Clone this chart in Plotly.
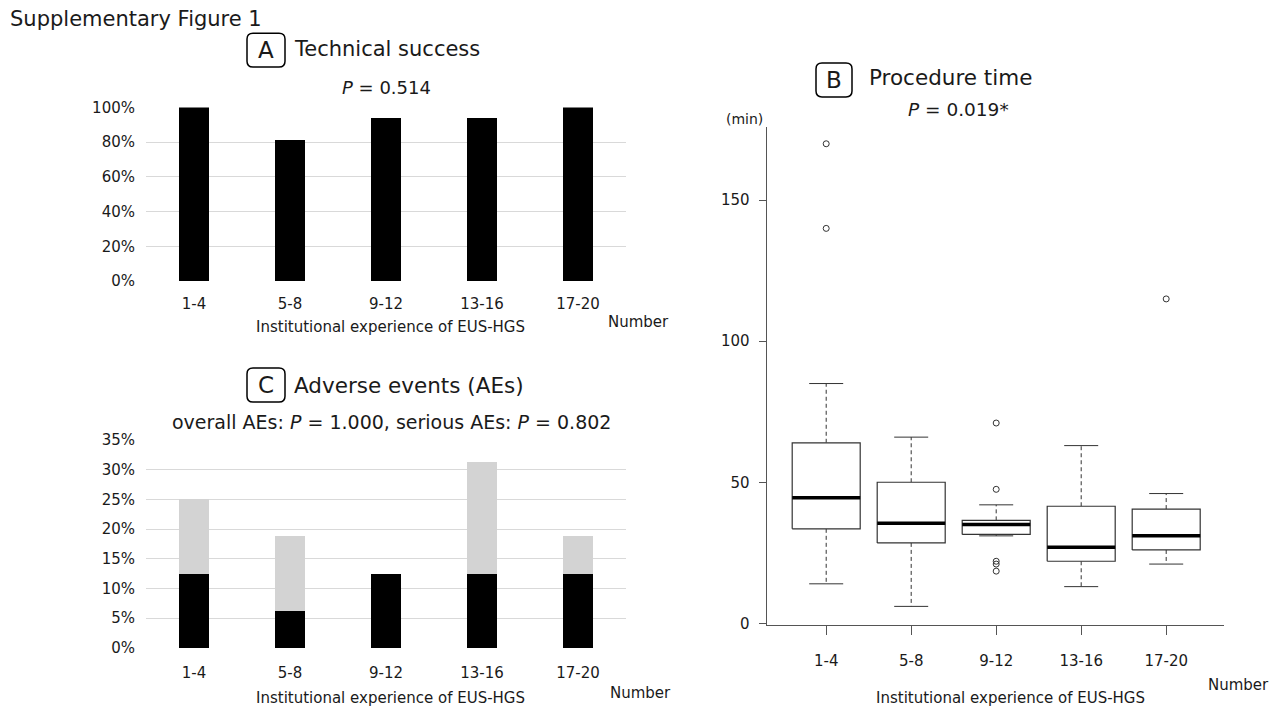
import plotly.graph_objects as go

# ---------------- data ----------------
categories = ["1-4", "5-8", "9-12", "13-16", "17-20"]

# Panel A: technical success (%)
technical_success = [100, 81.25, 93.75, 93.75, 100]

# Panel C: adverse events (%)
overall_aes = [25, 18.75, 12.5, 31.25, 18.75]
serious_aes = [12.5, 6.25, 12.5, 12.5, 12.5]

# Panel B: procedure time (min) box statistics
lower_whisker = [14, 6, 31, 13, 21]
q1_values = [33.5, 28.5, 31.5, 22, 26]
median_values = [44.5, 35.5, 35, 27, 31]
q3_values = [64, 50, 36.5, 41.5, 40.5]
upper_whisker = [85, 66, 42, 63, 46]
outlier_groups = ["1-4", "1-4", "9-12", "9-12", "9-12", "9-12", "9-12", "17-20"]
outlier_values = [170, 140, 71, 47.5, 22, 21, 18.5, 115]

pct_ticks = [0, 20, 40, 60, 80, 100]
ae_ticks = [0, 5, 10, 15, 20, 25, 30, 35]
time_ticks = [0, 50, 100, 150]

# ---------------- helpers ----------------
W, H = 1280, 720
FONT = "DejaVu Sans"
TXT = "#1a1a1a"


def fx(p):
    return p / W


def fy(p):
    # map a screen row to paper coordinates (page is shown slightly offset/compressed vertically)
    return 1 - ((p - 7.8) / 0.978) / H


fig = go.Figure()

# Panel A bars
fig.add_trace(go.Bar(x=categories, y=technical_success, marker=dict(color="black", line=dict(width=0)),
                     xaxis="x", yaxis="y", hoverinfo="skip"))

# Panel C stacked bars
other_aes = [o - s for o, s in zip(overall_aes, serious_aes)]
fig.add_trace(go.Bar(x=categories, y=serious_aes, marker=dict(color="black", line=dict(width=0)),
                     xaxis="x2", yaxis="y2", hoverinfo="skip"))
fig.add_trace(go.Bar(x=categories, y=other_aes, marker=dict(color="#d3d3d3", line=dict(width=0)),
                     xaxis="x2", yaxis="y2", hoverinfo="skip"))

# Panel B box plots (R style), built from the statistics
pos = {c: i + 1 for i, c in enumerate(categories)}
half_box, half_cap = 0.4, 0.2
box_x, box_y, med_x, med_y, wh_x, wh_y, cap_x, cap_y = [], [], [], [], [], [], [], []
for i, c in enumerate(categories):
    p = pos[c]
    box_x += [p - half_box, p + half_box, p + half_box, p - half_box, p - half_box, None]
    box_y += [q1_values[i], q1_values[i], q3_values[i], q3_values[i], q1_values[i], None]
    med_x += [p - half_box, p + half_box, None]
    med_y += [median_values[i], median_values[i], None]
    wh_x += [p, p, None, p, p, None]
    wh_y += [q3_values[i], upper_whisker[i], None, q1_values[i], lower_whisker[i], None]
    cap_x += [p - half_cap, p + half_cap, None, p - half_cap, p + half_cap, None]
    cap_y += [upper_whisker[i], upper_whisker[i], None, lower_whisker[i], lower_whisker[i], None]

fig.add_trace(go.Scatter(x=wh_x, y=wh_y, mode="lines", line=dict(color="#333333", width=1, dash="4px,3px"),
                         xaxis="x3", yaxis="y3", hoverinfo="skip"))
fig.add_trace(go.Scatter(x=cap_x, y=cap_y, mode="lines", line=dict(color="#333333", width=1),
                         xaxis="x3", yaxis="y3", hoverinfo="skip"))
fig.add_trace(go.Scatter(x=box_x, y=box_y, mode="lines", fill="toself", fillcolor="white",
                         line=dict(color="#333333", width=1.2), xaxis="x3", yaxis="y3", hoverinfo="skip"))
fig.add_trace(go.Scatter(x=med_x, y=med_y, mode="lines", line=dict(color="black", width=3.5),
                         xaxis="x3", yaxis="y3", hoverinfo="skip"))
fig.add_trace(go.Scatter(x=[pos[g] for g in outlier_groups], y=outlier_values, mode="markers",
                         marker=dict(symbol="circle-open", size=6, color="#333333", line=dict(width=1)),
                         xaxis="x3", yaxis="y3", hoverinfo="skip"))

tickfont = dict(family=FONT, size=15, color=TXT)

fig.update_layout(
    width=W, height=H,
    margin=dict(l=0, r=0, t=0, b=0),
    paper_bgcolor="white", plot_bgcolor="white",
    showlegend=False,
    barmode="stack",
    bargap=0.69,
    font=dict(family=FONT, color=TXT),
    xaxis=dict(domain=[fx(146), fx(626)], anchor="y", type="category", showline=False, showgrid=False,
               ticks="", tickfont=tickfont, ticklabelstandoff=12, zeroline=False),
    yaxis=dict(domain=[fy(280.7), fy(106.5)], anchor="x", range=[0, 100], tickvals=pct_ticks,
               ticktext=[f"{v}%" for v in pct_ticks], showgrid=True, gridcolor="#d9d9d9", gridwidth=1,
               zeroline=False, showline=False, ticks="", tickfont=tickfont, ticklabelstandoff=10),
    xaxis2=dict(domain=[fx(146), fx(626)], anchor="y2", type="category", showline=False, showgrid=False,
                ticks="", tickfont=tickfont, ticklabelstandoff=14, zeroline=False),
    yaxis2=dict(domain=[fy(648.7), fy(440)], anchor="x2", range=[0, 35], tickvals=ae_ticks,
                ticktext=[f"{v}%" for v in ae_ticks], showgrid=True, gridcolor="#d9d9d9", gridwidth=1,
                zeroline=False, showline=False, ticks="", tickfont=tickfont, ticklabelstandoff=10),
    xaxis3=dict(domain=[fx(766.7), fx(1224)], anchor="y3", range=[0.3, 5.68], tickvals=[1, 2, 3, 4, 5],
                ticktext=categories, ticks="outside", ticklen=9, tickcolor="#555555", showline=True,
                linecolor="#555555", linewidth=1.3, showgrid=False, zeroline=False, tickfont=tickfont,
                ticklabelstandoff=13),
    yaxis3=dict(domain=[fy(625.7), fy(126)], anchor="x3", range=[-0.6, 176.0], tickvals=time_ticks,
                ticks="outside", ticklen=7, tickcolor="#555555", showline=True, linecolor="#555555",
                linewidth=1.3, showgrid=False, zeroline=False, tickfont=tickfont, ticklabelstandoff=6),
)

annotations = []


def add_text(text, x, y, size, xanchor="left"):
    annotations.append(dict(text=text, x=fx(x), y=fy(y), xref="paper", yref="paper", xanchor=xanchor,
                            yanchor="middle", showarrow=False, font=dict(family=FONT, size=size, color=TXT)))


add_text("Supplementary Figure 1", 8, 18, 21)

# Panel A
add_text("A", 266, 49, 23, "center")
add_text("Technical success", 292, 48, 21)
add_text("<i>P</i> = 0.514", 386, 87, 18, "center")
add_text("Institutional experience of EUS-HGS", 390, 327, 15, "center")
add_text("Number", 606, 322, 15)

# Panel C
add_text("C", 266, 385, 23, "center")
add_text("Adverse events (AEs)", 292, 385, 21.5)
add_text("overall AEs: <i>P</i> = 1.000, serious AEs: <i>P</i> = 0.802", 391, 422, 19, "center")
add_text("Institutional experience of EUS-HGS", 390, 699, 15, "center")
add_text("Number", 608, 694, 15)

# Panel B
add_text("B", 834, 79, 23, "center")
add_text("Procedure time", 867, 77, 21.5)
add_text("<i>P</i> = 0.019*", 958, 109, 18.5, "center")
add_text("(min)", 744, 118, 14, "center")
add_text("Institutional experience of EUS-HGS", 1010, 699, 15, "center")
add_text("Number", 1206, 686, 15)

fig.update_layout(annotations=annotations)


def rounded_box(x0, y0, x1, y1, r=6):
    rx = r / W
    ry = r / H
    X0, X1 = fx(x0), fx(x1)
    Y0, Y1 = fy(y1), fy(y0)  # bottom, top in paper coords
    path = (f"M {X0+rx},{Y0} L {X1-rx},{Y0} Q {X1},{Y0} {X1},{Y0+ry} "
            f"L {X1},{Y1-ry} Q {X1},{Y1} {X1-rx},{Y1} "
            f"L {X0+rx},{Y1} Q {X0},{Y1} {X0},{Y1-ry} "
            f"L {X0},{Y0+ry} Q {X0},{Y0} {X0+rx},{Y0} Z")
    return dict(type="path", path=path, xref="paper", yref="paper",
                line=dict(color="black", width=1.5), fillcolor="rgba(0,0,0,0)")


fig.update_layout(shapes=[
    rounded_box(247, 32, 285, 66),
    rounded_box(247, 368, 285, 402),
    rounded_box(816, 62, 852, 96),
])

fig.write_html("out.html")
